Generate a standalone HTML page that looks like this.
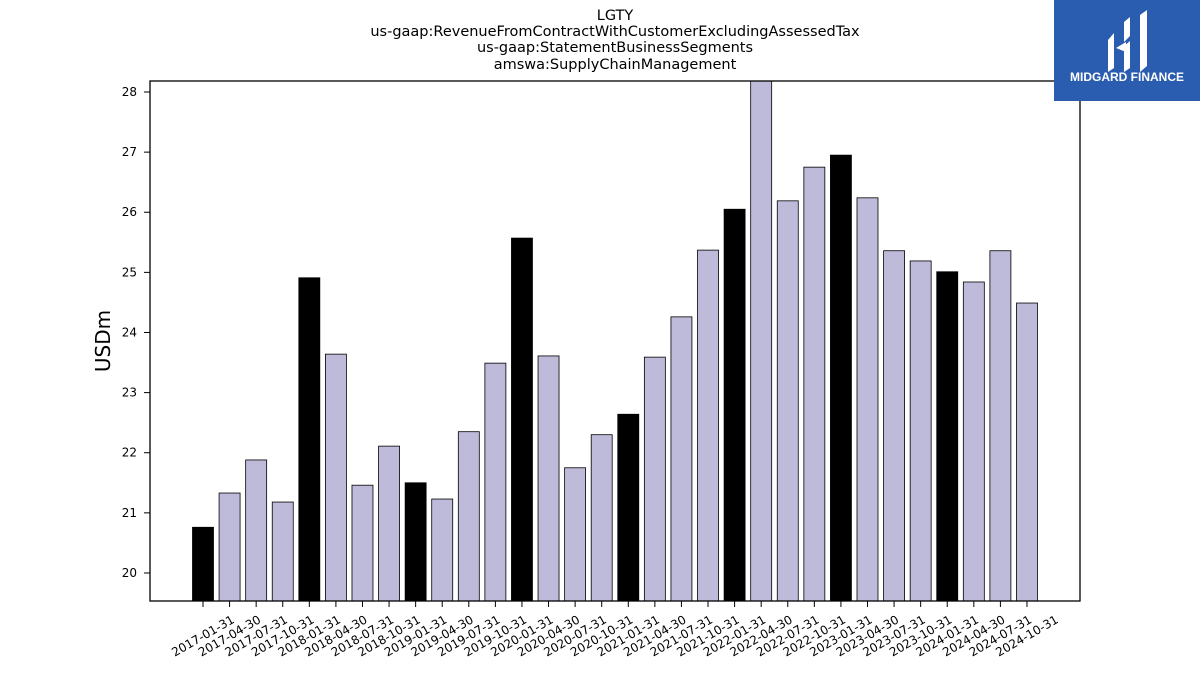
<!DOCTYPE html>
<html><head><meta charset="utf-8"><style>
body{margin:0;background:#fff;font-family:"Liberation Sans","DejaVu Sans",sans-serif;}
</style></head><body>
<svg id="chart" width="1200" height="675" xmlns="http://www.w3.org/2000/svg" font-family="'DejaVu Sans','Liberation Sans',sans-serif">
<g font-size="14.5" text-anchor="middle" fill="#000">
<text x="615" y="20">LGTY</text>
<text x="615" y="36">us-gaap:RevenueFromContractWithCustomerExcludingAssessedTax</text>
<text x="615" y="52">us-gaap:StatementBusinessSegments</text>
<text x="615" y="69">amswa:SupplyChainManagement</text>
</g>
<g id="bars"></g>
<g id="yticks"></g>
<g id="xticks"></g>
<rect x="150" y="81" width="930" height="520" fill="none" stroke="#000" stroke-width="1.3"/>
<text x="0" y="0" transform="translate(110,341) rotate(-90)" font-size="20" text-anchor="middle">USDm</text>
<g>
<rect x="1054" y="0" width="146" height="101" fill="#2a5db0"/>
<path d="M1108 40 L1114 33 L1114 68 L1108 72 Z M1124 22 L1130 17 L1130 36 L1124 42 Z M1124 46 L1130 41 L1130 68 L1124 72 Z M1140 15 L1147 10 L1147 66 L1140 72 Z M1116 48 L1126 42 L1126 52 Z" fill="#fff"/>
<text x="1127" y="81" font-size="12" font-weight="bold" fill="#fff" text-anchor="middle" font-family="'Liberation Sans',sans-serif">MIDGARD FINANCE</text>
</g>
</svg>
<script>
const categories=["2017-01-31","2017-04-30","2017-07-31","2017-10-31","2018-01-31","2018-04-30","2018-07-31","2018-10-31","2019-01-31","2019-04-30","2019-07-31","2019-10-31","2020-01-31","2020-04-30","2020-07-31","2020-10-31","2021-01-31","2021-04-30","2021-07-31","2021-10-31","2022-01-31","2022-04-30","2022-07-31","2022-10-31","2023-01-31","2023-04-30","2023-07-31","2023-10-31","2024-01-31","2024-04-30","2024-07-31","2024-10-31"];
const values=[20.76,21.33,21.88,21.18,24.91,23.64,21.46,22.11,21.5,21.23,22.35,23.49,25.57,23.61,21.75,22.30,22.64,23.59,24.26,25.37,26.05,28.3,26.19,26.75,26.95,26.24,25.36,25.19,25.01,24.84,25.36,24.49];
const yTicks=[20,21,22,23,24,25,26,27,28];
const ns="http://www.w3.org/2000/svg";
const yMin=19.534,yMax=28.183,plotTop=81,plotBot=601;
const y=v=>plotBot-(v-yMin)/(yMax-yMin)*(plotBot-plotTop);
const step=26.58,x0=203,bw=21;
const x=i=>x0+i*step;
const bars=document.getElementById('bars');
values.forEach((v,i)=>{
 const r=document.createElementNS(ns,'rect');
 
 
 const yt=Math.max(y(v),plotTop);
 r.setAttribute('x',x(i)-bw/2);r.setAttribute('y',yt);
 r.setAttribute('width',bw);r.setAttribute('height',plotBot-yt);
 r.setAttribute('fill',categories[i].slice(5,7)==='01'?'#000':'#bebada');
 r.setAttribute('stroke','#000');r.setAttribute('stroke-width','0.8');
 bars.appendChild(r);
});
const ytg=document.getElementById('yticks');
yTicks.forEach(t=>{
 const l=document.createElementNS(ns,'line');
 
 
 l.setAttribute('x1',144);l.setAttribute('x2',150);l.setAttribute('y1',y(t));l.setAttribute('y2',y(t));l.setAttribute('stroke','#000');
 ytg.appendChild(l);
 const s=document.createElementNS(ns,'text');
 
 
 s.setAttribute('x',137);s.setAttribute('y',y(t)+4);s.setAttribute('text-anchor','end');s.setAttribute('font-size','12');
 s.textContent=t;ytg.appendChild(s);
});
const xt=document.getElementById('xticks');
categories.forEach((c,i)=>{
 const l=document.createElementNS(ns,'line');
 
 
 l.setAttribute('x1',x(i));l.setAttribute('x2',x(i));l.setAttribute('y1',601);l.setAttribute('y2',607);l.setAttribute('stroke','#000');
 xt.appendChild(l);
 const s=document.createElementNS(ns,'text');
 
 
 s.setAttribute('font-size','12');s.setAttribute('text-anchor','middle');
 s.setAttribute('y','4');
 s.setAttribute('transform','translate('+x(i)+',636) rotate(-30)');
 s.textContent=c;xt.appendChild(s);
});
</script>
</body></html>
